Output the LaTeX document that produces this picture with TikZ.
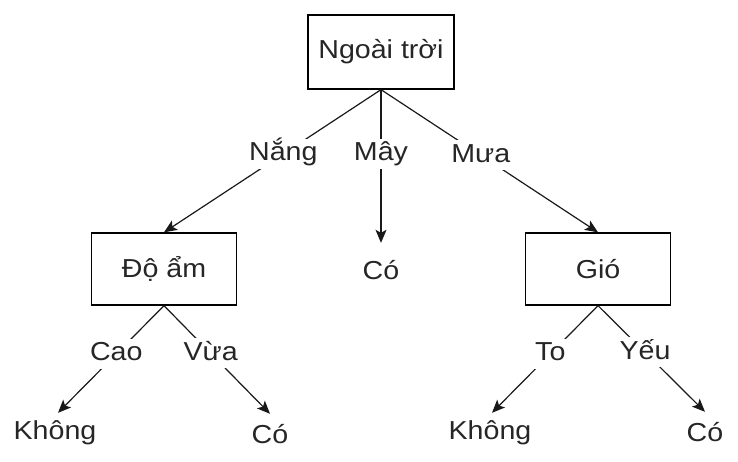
\documentclass[tikz,border=0pt]{standalone}
\usepackage{fontspec}
\setmainfont{Liberation Sans}[FakeStretch=1.1]
\usetikzlibrary{arrows.meta}
\begin{document}
\begin{tikzpicture}[x=1pt,y=-1pt,
  every node/.style={font=\fontsize{26}{31}\selectfont, text=black!85},
  box/.style={draw=black, line width=1.3pt, minimum width=145pt, minimum height=72pt, inner sep=0pt},
  leaf/.style={inner sep=0pt, minimum height=40pt},
  conn/.style={draw=black!90, line width=1.2pt},
  arr/.style={conn, -{Stealth[length=13pt,width=11pt,inset=3pt]}},
  lbl/.style={fill=white, inner sep=2pt, text height=20pt, text depth=6pt}]
\useasboundingbox (0,0) rectangle (738,462);

\node[box, minimum width=146pt, minimum height=74pt] (root) at (381,52) {Ngoài trời};
\node[box] (doam) at (164,269) {Độ ẩm};
\node[box] (gio) at (598,269) {Gió};
\node[leaf, minimum height=54pt] (co1) at (381,270) {Có};

\node[leaf] (khong1) at (55,433) {Không};
\node[leaf] (co2) at (270,434) {Có};
\node[leaf] (khong2) at (490,433) {Không};
\node[leaf] (co3) at (705,432) {Có};

\draw[arr] (root.south) -- node[lbl,pos=0.45]{Nắng} (doam.north);
\draw[arr] (root.south) -- node[lbl,pos=0.42]{Mây} (co1.north);
\draw[arr] (root.south) -- node[lbl,pos=0.46]{Mưa} (gio.north);

\draw[arr] (doam.south) -- node[lbl,pos=0.45]{Cao} ([xshift=3pt]khong1.north);
\draw[arr] (doam.south) -- node[lbl,pos=0.44]{Vừa} (co2.north);
\draw[arr] (gio.south) -- node[lbl,pos=0.45]{To} ([xshift=2pt]khong2.north);
\draw[arr] (gio.south) -- node[lbl,pos=0.44]{Yếu} (co3.north);
\end{tikzpicture}
\end{document}
